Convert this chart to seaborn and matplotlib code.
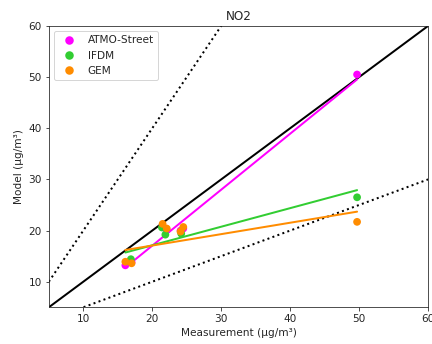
import numpy as np
import pandas as pd
import matplotlib
matplotlib.use("Agg")
import matplotlib.pyplot as plt
import seaborn as sns

sns.set_style("ticks")
plt.rcParams['font.family'] = ['DejaVu Sans']

models = ["ATMO-Street", "IFDM", "GEM"]
colors = ["#ff00ff", "#32cd32", "#ff8c00"]

atmo_meas = [16.1, 17.0, 21.5, 22.1, 24.1, 24.5, 49.7]
atmo_model = [13.2, 13.8, 20.9, 20.1, 20.0, 20.4, 50.5]
ifdm_meas = [16.9, 21.4, 21.9, 24.2, 49.7]
ifdm_model = [14.4, 20.6, 19.2, 19.4, 26.5]
gem_meas = [16.1, 17.0, 21.5, 22.1, 24.1, 24.5, 49.7]
gem_model = [13.9, 13.6, 21.3, 20.4, 19.8, 20.7, 21.7]

# fitted line parameters (slope, intercept)
fit_slope = [1.094, 0.363, 0.223]
fit_intercept = [-4.83, 9.86, 12.61]
fit_xrange = [16.1, 49.7]

ref_x = [5, 60]

rows = []
for m, xs, ys in zip(models, [atmo_meas, ifdm_meas, gem_meas],
                     [atmo_model, ifdm_model, gem_model]):
    for x, y in zip(xs, ys):
        rows.append({"Measurement": x, "Model": y, "model": m})
df = pd.DataFrame(rows)

fig = plt.figure(figsize=(6.0, 344/72), dpi=72)
ax = fig.add_axes([0.113, 0.1067, 0.878, 0.818])

# reference lines
ax.plot(ref_x, ref_x, color="black", lw=2, zorder=1)
ax.plot(ref_x, [2 * v for v in ref_x], color="black", lw=2, ls=":", zorder=1)
ax.plot(ref_x, [0.5 * v for v in ref_x], color="black", lw=2, ls=":", zorder=1)

sns.scatterplot(data=df, x="Measurement", y="Model", hue="model",
                hue_order=models, palette=colors, s=60, linewidth=0,
                ax=ax, zorder=3)

for m, c, k, b in zip(models, colors, fit_slope, fit_intercept):
    xs = np.array(fit_xrange)
    ax.plot(xs, k * xs + b, color=c, lw=2, zorder=2)

ax.set_xlim(5, 60)
ax.set_ylim(5, 60)
ax.set_xticks([10, 20, 30, 40, 50, 60])
ax.set_yticks([10, 20, 30, 40, 50, 60])
ax.tick_params(labelsize=10.5)
ax.set_xlabel("Measurement (µg/m³)", fontsize=10.5)
ax.set_ylabel("Model (µg/m³)", fontsize=10.5)
ax.set_title("NO2", fontsize=12)
leg = ax.legend(loc="upper left", fontsize=10.5, title=None, frameon=True,
                markerscale=1.1)

fig.savefig("out.png", dpi=72)
